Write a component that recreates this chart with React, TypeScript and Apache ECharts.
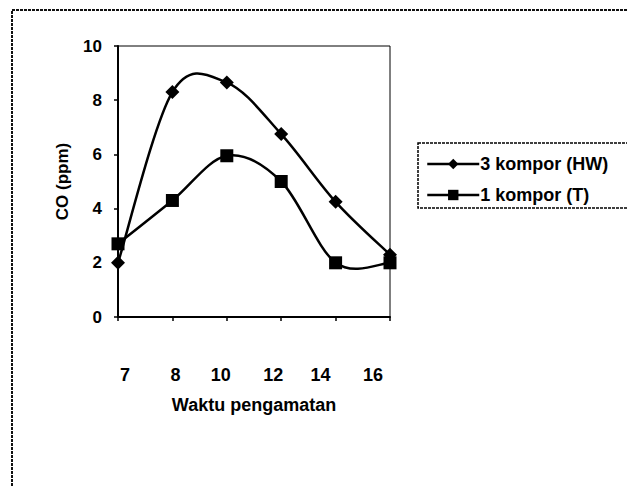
import React, { useEffect, useRef } from "react";
import * as echarts from "echarts";

const categories = ["7", "8", "10", "12", "14", "16"];
const seriesHW = [2.0, 8.3, 8.65, 6.75, 4.25, 2.3];
const seriesT = [2.7, 4.3, 5.95, 5.0, 2.0, 2.0];
const seriesNames = ["3 kompor (HW)", "1 kompor (T)"];
const yTicks = { min: 0, max: 10, interval: 2 };

// label nudges (style only): positive = right, negative = left
const labelShift = [7, 3, -6, -8, -15, -17];

function smoothPath(pts: number[][]): string {
  let d = `M${pts[0][0]},${pts[0][1]}`;
  for (let i = 0; i < pts.length - 1; i++) {
    const p0 = pts[Math.max(0, i - 1)];
    const p1 = pts[i];
    const p2 = pts[i + 1];
    const p3 = pts[Math.min(pts.length - 1, i + 2)];
    const c1x = p1[0] + (p2[0] - p0[0]) / 6;
    const c1y = p1[1] + (p2[1] - p0[1]) / 6;
    const c2x = p2[0] - (p3[0] - p1[0]) / 6;
    const c2y = p2[1] - (p3[1] - p1[1]) / 6;
    d += ` C${c1x},${c1y} ${c2x},${c2y} ${p2[0]},${p2[1]}`;
  }
  return d;
}

function curveSeries(values: number[]) {
  return {
    type: "custom",
    coordinateSystem: "cartesian2d",
    silent: true,
    z: 1,
    data: [[0, values[0]]],
    renderItem: (_params: any, api: any) => {
      const pts = values.map((v, i) => api.coord([i, v]));
      return {
        type: "path",
        shape: { pathData: smoothPath(pts) },
        style: { fill: "none", stroke: "#000", lineWidth: 2.5 },
      };
    },
  };
}

export default function App() {
  const ref = useRef<HTMLDivElement>(null);
  useEffect(() => {
    if (!ref.current) return;
    const chart = echarts.init(ref.current, null, { renderer: "svg" });
    const font = "'Liberation Sans', Arial, sans-serif";
    const rich: Record<string, any> = {};
    labelShift.forEach((s, i) => {
      rich["l" + i] = {
        fontSize: 18,
        fontWeight: "bold",
        color: "#000",
        fontFamily: font,
        padding: s >= 0 ? [0, 0, 0, 2 * s] : [0, -2 * s, 0, 0],
      };
    });
    chart.setOption({
      animation: false,
      backgroundColor: "#fff",
      textStyle: { fontFamily: font, color: "#000" },
      grid: { left: 118, right: 237, top: 46, bottom: 170, show: true, borderColor: "#000", borderWidth: 1 },
      xAxis: {
        type: "category",
        data: categories,
        boundaryGap: false,
        name: "Waktu pengamatan",
        nameLocation: "middle",
        nameGap: 79,
        nameTextStyle: { fontSize: 18, fontWeight: "bold", color: "#000", fontFamily: font },
        axisLine: { lineStyle: { color: "#000", width: 2 } },
        axisTick: { show: true, length: 4, lineStyle: { color: "#000", width: 1.5 } },
        axisLabel: {
          margin: 49,
          formatter: (v: string, i: number) => `{l${i}|${v}}`,
          rich,
        },
      },
      yAxis: {
        type: "value",
        min: yTicks.min,
        max: yTicks.max,
        interval: yTicks.interval,
        name: "CO (ppm)",
        nameLocation: "middle",
        nameGap: 47,
        nameTextStyle: { fontSize: 17, fontWeight: "bold", color: "#000", fontFamily: font },
        splitLine: { show: false },
        axisLine: { show: true, lineStyle: { color: "#000", width: 2 } },
        axisTick: { show: true, length: 4, lineStyle: { color: "#000", width: 1.5 } },
        axisLabel: { margin: 16, fontSize: 17, fontWeight: "bold", color: "#000", fontFamily: font },
      },
      legend: {
        left: 421,
        top: 150,
        orient: "vertical",
        itemGap: 13,
        itemWidth: 52,
        itemHeight: 13,
        textStyle: { fontSize: 18, fontWeight: "bold", color: "#000", fontFamily: font, padding: [0, 0, 0, -4] },
        data: seriesNames.map((n) => ({
          name: n,
          lineStyle: { color: "#000", width: 2.5, opacity: 1 },
        })),
      },
      graphic: [
        {
          type: "rect",
          shape: { x: 12, y: 10, width: 700, height: 600 },
          style: { fill: "none", stroke: "#111", lineWidth: 2, lineDash: [3, 1] },
          silent: true,
          z: -1,
        },
        {
          type: "rect",
          shape: { x: 418, y: 143, width: 300, height: 65 },
          style: { fill: "none", stroke: "#000", lineWidth: 1.5, lineDash: [3, 1] },
          silent: true,
        },
      ],
      series: [
        curveSeries(seriesHW),
        curveSeries(seriesT),
        {
          name: seriesNames[0],
          type: "line",
          data: seriesHW,
          z: 3,
          symbol: "diamond",
          symbolSize: 14,
          lineStyle: { color: "#000", width: 2.5, opacity: 0 },
          itemStyle: { color: "#000" },
        },
        {
          name: seriesNames[1],
          type: "line",
          data: seriesT,
          z: 3,
          symbol: "rect",
          symbolSize: 13,
          lineStyle: { color: "#000", width: 2.5, opacity: 0 },
          itemStyle: { color: "#000" },
        },
      ],
    });
    return () => chart.dispose();
  }, []);
  return (
    <div
      ref={ref}
      style={{ position: "fixed", left: 0, top: 0, width: 627, height: 487, background: "#fff" }}
    />
  );
}
